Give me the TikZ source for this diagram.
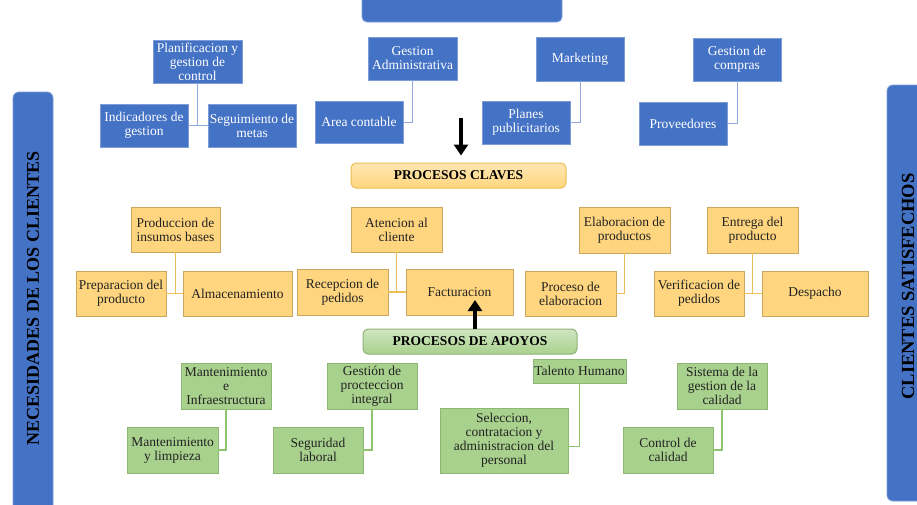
\documentclass[tikz,border=0pt]{standalone}
\usepackage{fontspec}
\setmainfont{Liberation Serif}
\usetikzlibrary{arrows.meta}
\definecolor{bfill}{HTML}{4472C4}
\definecolor{bline}{HTML}{7E9DD8}
\definecolor{bconn}{HTML}{8FAADC}
\definecolor{yfill}{HTML}{FFD67F}
\definecolor{yline}{HTML}{C9A75E}
\definecolor{yconn}{HTML}{EDBE55}
\definecolor{gfill}{HTML}{A9D18E}
\definecolor{gline}{HTML}{8DB873}
\definecolor{gconn}{HTML}{8EC46E}
\definecolor{ttxt}{HTML}{222222}
\begin{document}
\begin{tikzpicture}[x=1pt,y=-1pt,
  base/.style={draw, line width=0.8pt, align=center, inner sep=0.5pt,
    font=\fontsize{13.5}{14}\selectfont},
  bbox/.style={base, fill=bfill, draw=bline, text=white},
  ybox/.style={base, fill=yfill, draw=yline, text=ttxt},
  gbox/.style={base, fill=gfill, draw=gline, text=ttxt},
  bcon/.style={draw=bconn, line width=1pt},
  ycon/.style={draw=yconn, line width=1.2pt},
  gcon/.style={draw=gconn, line width=1.2pt},
  title/.style={rounded corners=5pt, line width=1pt, inner sep=0pt,
    font=\bfseries\fontsize{13.5}{14}\selectfont, text=black,
    minimum width=214pt, minimum height=25pt},
  sidetxt/.style={rotate=90, font=\bfseries\fontsize{18}{19}\selectfont, text=black},
  arr/.style={-{Triangle[width=14pt,length=11pt]}, line width=3.5pt, black}
]
\useasboundingbox (0,0) rectangle (917,504);
\fill[white] (0,0) rectangle (917,504);

% side bars and top box
\filldraw[fill=bfill, draw=bline, line width=0.8pt, rounded corners=6pt] (13,92) rectangle (53,515);
\node[sidetxt] (nec) at (33,298.5) {NECESIDADES DE LOS CLIENTES};
\filldraw[fill=bfill, draw=bline, line width=0.8pt, rounded corners=6pt] (887,85) rectangle (940,501);
\node[sidetxt, font=\bfseries\fontsize{18.5}{19}\selectfont] (sat) at (908,286.5) {CLIENTES SATISFECHOS};
\filldraw[fill=bfill, draw=bline, line width=0.8pt, rounded corners=5pt] (362,-15) rectangle (562,22);

% blue section
\node[bbox, minimum width=89pt, minimum height=43pt] (plan) at (197.5,61.5) {Planificacion y\\gestion de\\control};
\node[bbox, minimum width=88pt, minimum height=43pt] (ind) at (144,125.5) {Indicadores de\\gestion};
\node[bbox, minimum width=88pt, minimum height=43pt] (seg) at (252,125.5) {Seguimiento de\\metas};
\node[bbox, minimum width=89pt, minimum height=43pt] (gadm) at (412.5,58.5) {Gestion\\Administrativa};
\node[bbox, minimum width=88pt, minimum height=42pt] (area) at (359,122) {Area contable};
\node[bbox, minimum width=88pt, minimum height=44pt] (mkt) at (580,59) {Marketing};
\node[bbox, minimum width=88pt, minimum height=43pt] (planes) at (526,122.5) {Planes\\publicitarios};
\node[bbox, minimum width=88pt, minimum height=43pt] (gcomp) at (737,59.5) {Gestion de\\compras};
\node[bbox, minimum width=88pt, minimum height=43pt] (prov) at (683,123.5) {Proveedores};

\draw[bcon] (plan.south) -- (plan.south |- ind.east);
\draw[bcon] (ind.east) -- (seg.west);
\draw[bcon] (gadm.south) |- (area.east);
\draw[bcon] (mkt.south) |- (planes.east);
\draw[bcon] (gcomp.south) |- (prov.east);

% key processes
\node[title, fill=yfill, draw=yconn, top color=yfill!60!white, bottom color=yfill, minimum width=215pt] (clav) at (458.5,175.5) {PROCESOS CLAVES};
\coordinate (dtop) at (461,118);
\draw[arr, shorten >=7pt] (dtop) -- (dtop |- clav.north);

\node[ybox, minimum width=89pt, minimum height=45pt] (prod) at (175.5,229.5) {Produccion de\\insumos bases};
\node[ybox, minimum width=90pt, minimum height=45pt] (prep) at (121,293.5) {Preparacion del\\producto};
\node[ybox, minimum width=109pt, minimum height=45pt] (alm) at (237.5,293.5) {Almacenamiento};
\node[ybox, minimum width=91pt, minimum height=45pt] (aten) at (396.5,229.5) {Atencion al\\cliente};
\node[ybox, minimum width=91pt, minimum height=46pt] (recep) at (342.5,292) {Recepcion de\\pedidos};
\node[ybox, minimum width=107pt, minimum height=46pt] (fact) at (459.5,292) {Facturacion};
\node[ybox, minimum width=91pt, minimum height=46pt] (elab) at (624.5,230) {Elaboracion de\\productos};
\node[ybox, minimum width=91pt, minimum height=45pt] (proc) at (570.5,293.5) {Proceso de\\elaboracion};
\node[ybox, minimum width=91pt, minimum height=46pt] (entr) at (752.5,230) {Entrega del\\producto};
\node[ybox, minimum width=90pt, minimum height=45pt] (verif) at (699,293.5) {Verificacion de\\pedidos};
\node[ybox, minimum width=106pt, minimum height=45pt] (desp) at (815,293.5) {Despacho};

\draw[ycon] (prod.south) -- (prod.south |- prep.east);
\draw[ycon] (prep.east) -- (alm.west);
\draw[ycon] (aten.south) -- (aten.south |- recep.east);
\draw[ycon] (recep.east) -- (fact.west);
\draw[ycon] (elab.south) |- (proc.east);
\draw[ycon] (entr.south) -- (entr.south |- verif.east);
\draw[ycon] (verif.east) -- (desp.west);

% support processes
\node[title, fill=gfill, draw=gfill!85!black, top color=gfill!55!white, bottom color=gfill] (apoy) at (470,341.5) {PROCESOS DE APOYOS};
\coordinate (utip) at (475,300);
\draw[arr] (utip |- apoy.north) -- (utip);

\node[gbox, minimum width=90pt, minimum height=46pt] (mant) at (226,386) {Mantenimiento\\e\\Infraestructura};
\node[gbox, minimum width=91pt, minimum height=46pt] (mlimp) at (172.5,450) {Mantenimiento\\y limpieza};
\node[gbox, minimum width=90pt, minimum height=46pt] (gprot) at (372,386) {Gestión de\\procteccion\\integral};
\node[gbox, minimum width=90pt, minimum height=46pt] (segl) at (318,450) {Seguridad\\laboral};
\node[gbox, minimum width=93pt, minimum height=24pt] (tal) at (579.5,371) {Talento Humano};
\node[gbox, minimum width=128pt, minimum height=65pt] (selec) at (504,440.5) {Seleccion,\\contratacion y\\administracion del\\personal};
\node[gbox, minimum width=90pt, minimum height=46pt] (sist) at (722,386) {Sistema de la\\gestion de la\\calidad};
\node[gbox, minimum width=90pt, minimum height=46pt] (ctrl) at (668,450) {Control de\\calidad};

\draw[gcon] (mant.south) |- (mlimp.east);
\draw[gcon] (gprot.south) |- (segl.east);
\draw[gcon] (tal.south) |- ([yshift=-6pt]selec.east);
\draw[gcon] (sist.south) |- (ctrl.east);
\end{tikzpicture}
\end{document}
